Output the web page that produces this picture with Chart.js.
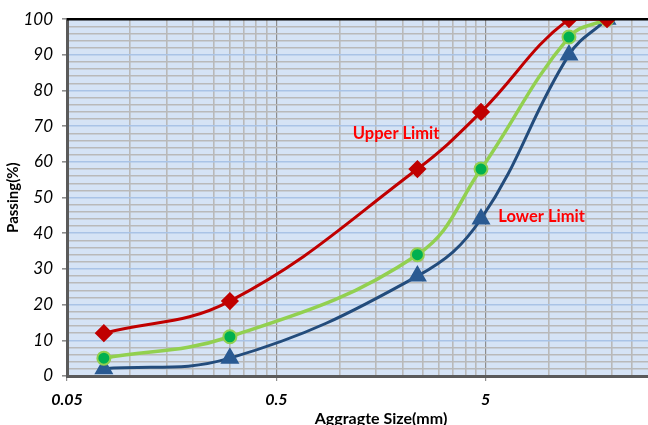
<!DOCTYPE html>
<html>
<head>
<meta charset="utf-8">
<script src="https://cdn.jsdelivr.net/npm/chart.js@4.4.1/dist/chart.umd.min.js"></script>
<style>
  html, body { margin: 0; padding: 0; background: #fff; overflow: hidden; }
  #wrap { position: relative; width: 706px; height: 432px; }
</style>
</head>
<body>
<div id="wrap"><canvas id="chart"></canvas></div>
<script>
// sieve sizes (mm) and passing percentages
const sieveSizes = [0.075, 0.3, 2.36, 4.75, 12.5, 19];
const upperLimit = [12, 21, 58, 74, 100, 100];
const sample     = [5, 11, 34, 58, 95, 100];
const lowerLimit = [2, 5, 28, 44, 90, 100];

// axis labels
const xMajorTicks = [0.05, 0.5, 5];
const yTickStep = 2;

const toPoints = (arr) => arr.map((v, i) => ({ x: sieveSizes[i], y: v }));

// grid lines at every multiple inside each decade (Excel style)
const xGridValues = [];
xMajorTicks.forEach(m => { for (let k = 1; k <= 9; k++) xGridValues.push(+(m * k).toFixed(4)); });
xGridValues.push(50);

const isMajorX = v => xMajorTicks.some(m => Math.abs(m - v) < 1e-9);

// light blue plot background + black top border + series labels
const plotDecor = {
  id: 'plotDecor',
  beforeDraw(chart) {
    const { ctx, chartArea: a } = chart;
    ctx.save();
    ctx.fillStyle = '#d5e3f5';
    ctx.fillRect(a.left, a.top, a.right - a.left, a.bottom - a.top);
    ctx.restore();
  },
  afterDatasetsDraw(chart) {
    const { ctx, chartArea: a, scales } = chart;
    ctx.save();
    ctx.strokeStyle = '#000';
    ctx.lineWidth = 2.5;
    ctx.beginPath();
    ctx.moveTo(a.left, a.top);
    ctx.lineTo(a.right, a.top);
    ctx.stroke();
    ctx.fillStyle = '#ff0000';
    ctx.font = 'bold 16.5px Lato, "Open Sans", sans-serif';
    ctx.textBaseline = 'middle';
    ctx.fillText('Upper Limit', scales.x.getPixelForValue(1.16), scales.y.getPixelForValue(68));
    ctx.fillText('Lower Limit', scales.x.getPixelForValue(5.75), scales.y.getPixelForValue(44.6));
    ctx.restore();
  }
};

new Chart(document.getElementById('chart'), {
  type: 'line',
  data: {
    datasets: [
      {
        label: 'Upper Limit',
        data: toPoints(upperLimit),
        borderColor: '#c00000',
        backgroundColor: '#c00000',
        borderWidth: 3,
        pointStyle: 'rectRot',
        pointRadius: 7,
        tension: 0.4
      },
      {
        label: 'Sample',
        data: toPoints(sample),
        borderColor: '#92d050',
        backgroundColor: '#00b050',
        pointBorderColor: '#92d050',
        pointBorderWidth: 2,
        borderWidth: 3.5,
        pointStyle: 'circle',
        pointRadius: 6.5,
        tension: 0.4
      },
      {
        label: 'Lower Limit',
        data: toPoints(lowerLimit),
        borderColor: '#234c7c',
        backgroundColor: '#2a5a92',
        pointBorderColor: '#2a5a92',
        borderWidth: 3,
        pointStyle: 'triangle',
        pointRadius: 8,
        tension: 0.4
      }
    ]
  },
  options: {
    responsive: true,
    maintainAspectRatio: false,
    animation: false,
    layout: { padding: { top: 17, right: 0, left: 0, bottom: 0 } },
    plugins: {
      legend: { display: false },
      tooltip: { enabled: false }
    },
    scales: {
      x: {
        type: 'logarithmic',
        min: 0.05,
        max: 50,
        afterBuildTicks: scale => { scale.ticks = xGridValues.map(v => ({ value: v })); },
        afterFit: scale => { scale.height = 56; },
        ticks: {
          autoSkip: false,
          maxRotation: 0,
          padding: 9,
          color: '#000',
          font: { family: 'Lato, "Open Sans", sans-serif', size: 16, style: 'italic', weight: 'bold' },
          callback: v => isMajorX(v) ? String(v) : ''
        },
        grid: {
          color: c => isMajorX(c.tick.value) ? '#8e8e8e' : '#b9b9b9',
          lineWidth: c => isMajorX(c.tick.value) ? 1.2 : 1.6,
          tickColor: c => isMajorX(c.tick.value) ? '#8e8e8e' : 'rgba(0,0,0,0)',
          tickLength: 5
        },
        border: { color: '#5a5a5a', width: 3 },
        title: {
          display: true,
          text: 'Aggragte Size(mm)',
          color: '#000',
          font: { family: 'Lato, "Open Sans", sans-serif', size: 16, weight: 'bold' },
          padding: { top: 4, bottom: 4 }
        }
      },
      y: {
        min: 0,
        max: 100,
        afterFit: scale => { scale.width = 67; },
        ticks: {
          stepSize: yTickStep,
          autoSkip: false,
          padding: 9,
          color: '#000',
          font: { family: 'Lato, "Open Sans", sans-serif', size: 17, style: 'italic' },
          callback: v => v % 10 === 0 ? v : ''
        },
        grid: {
          color: c => c.tick.value % 10 === 0 ? '#a9c3e6' : '#b9b9b9',
          lineWidth: 1.6,
          tickColor: c => c.tick.value % 10 === 0 ? '#8e8e8e' : 'rgba(0,0,0,0)',
          tickLength: 5
        },
        border: { color: '#5a5a5a', width: 3 },
        title: {
          display: true,
          text: 'Passing(%)',
          color: '#000',
          font: { family: 'Lato, "Open Sans", sans-serif', size: 15, weight: 'bold' },
          padding: { top: 4, bottom: 4 }
        }
      }
    }
  },
  plugins: [plotDecor]
});
</script>
</body>
</html>
